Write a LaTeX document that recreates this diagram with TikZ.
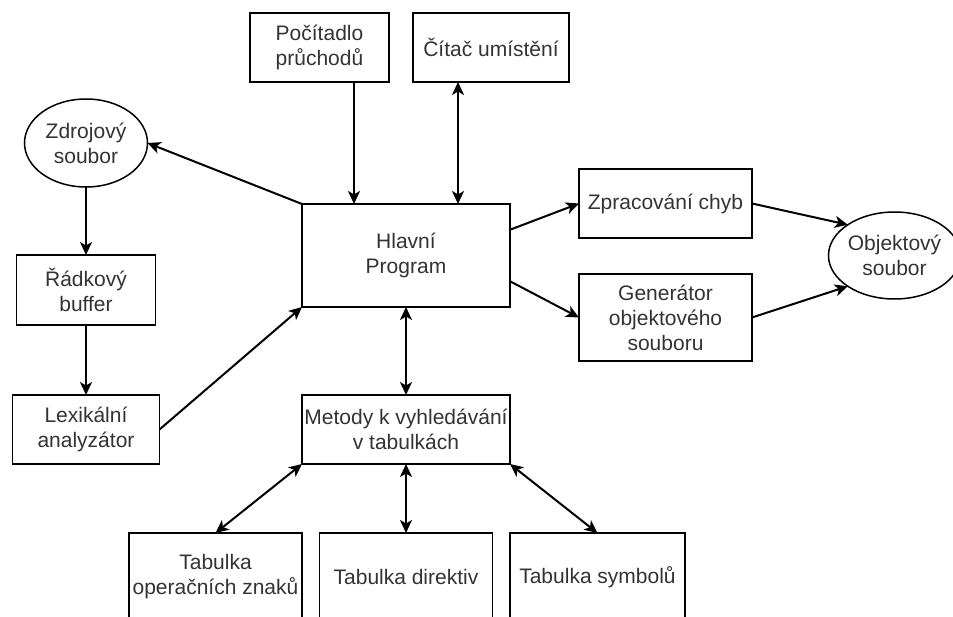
\documentclass[tikz,border=0pt]{standalone}
\usepackage{fontspec}
\setmainfont{Liberation Sans}
\usetikzlibrary{arrows.meta,calc,shapes.geometric}
\begin{document}
\begin{tikzpicture}[x=1pt,y=-1pt,
  txt/.style={align=center, font=\fontsize{21}{25}\selectfont, inner sep=0pt, outer sep=0pt, text=black!80},
  box/.style={txt, draw, line width=1.8pt, rectangle},
  ell/.style={txt, draw, line width=1.5pt, ellipse},
  tip/.tip={Stealth[length=13pt,width=12pt,inset=3.5pt]},
  arr/.style={line width=2pt, -tip},
  darr/.style={line width=2pt, tip-tip}]
\useasboundingbox (0,0) rectangle (953,617);
\clip (0,0) rectangle (953,617);
\fill[white] (0,0) rectangle (953,617);

\node[box, minimum width=139pt, minimum height=69pt] (poc) at (319.5,47.5) {Počítadlo\\průchodů};
\node[box, minimum width=156pt, minimum height=69pt] (cit) at (491,47.5) {Čítač umístění};
\node[ell, minimum width=123pt, minimum height=88pt] (zdr) at (86,143) {Zdrojový\\soubor};
\node[box, minimum width=139pt, minimum height=70pt] (rad) at (86,290) {Řádkový\\buffer};
\node[box, minimum width=147pt, minimum height=69pt] (lex) at (86,429.5) {Lexikální\\analyzátor};
\node[box, minimum width=208pt, minimum height=103pt] (hl) at (406,255.5) {Hlavní\\Program};
\node[box, minimum width=208pt, minimum height=69pt] (met) at (406,429.5) {Metody k vyhledávání\\v tabulkách};
\node[box, minimum width=173pt, minimum height=69pt] (zpr) at (665.5,203.5) {Zpracování chyb};
\node[box, minimum width=173pt, minimum height=87pt] (gen) at (665.5,317.5) {Generátor\\objektového\\souboru};
\node[ell, minimum width=113pt, minimum height=87pt] (obj) at (894.5,255.5) {Objektový\\soubor};
\node[box, minimum width=173pt, minimum height=88pt] (top) at (215.5,577) {Tabulka\\operačních znaků};
\node[box, minimum width=173pt, minimum height=88pt] (tdir) at (406,577) {Tabulka direktiv};
\node[box, minimum width=175pt, minimum height=88pt] (tsym) at (597.5,577) {Tabulka symbolů};

\coordinate (p1) at ($(hl.north west)!0.25!(hl.north east)$);
\coordinate (p2) at ($(hl.north west)!0.75!(hl.north east)$);
\coordinate (p3) at ($(hl.north east)!0.25!(hl.south east)$);
\coordinate (p4) at ($(hl.north east)!0.75!(hl.south east)$);

\draw[arr] (p1 |- poc.south) -- (p1);
\draw[darr] (p2 |- cit.south) -- (p2);
\draw[arr] (hl.north west) -- (zdr.east);
\draw[arr] (zdr.south) -- (rad.north);
\draw[arr] (rad.south) -- (lex.north);
\draw[arr] (lex.east) -- (hl.south west);
\draw[darr] (hl.south) -- (met.north);
\draw[arr] (p3) -- (zpr.west);
\draw[arr] (p4) -- (gen.west);
\draw[arr] (zpr.east) -- (obj.north west);
\draw[arr] (gen.east) -- (obj.south west);
\draw[darr] (met.south west) -- (top.north);
\draw[darr] (met.south) -- (tdir.north);
\draw[darr] (met.south east) -- (tsym.north);
\end{tikzpicture}
\end{document}
